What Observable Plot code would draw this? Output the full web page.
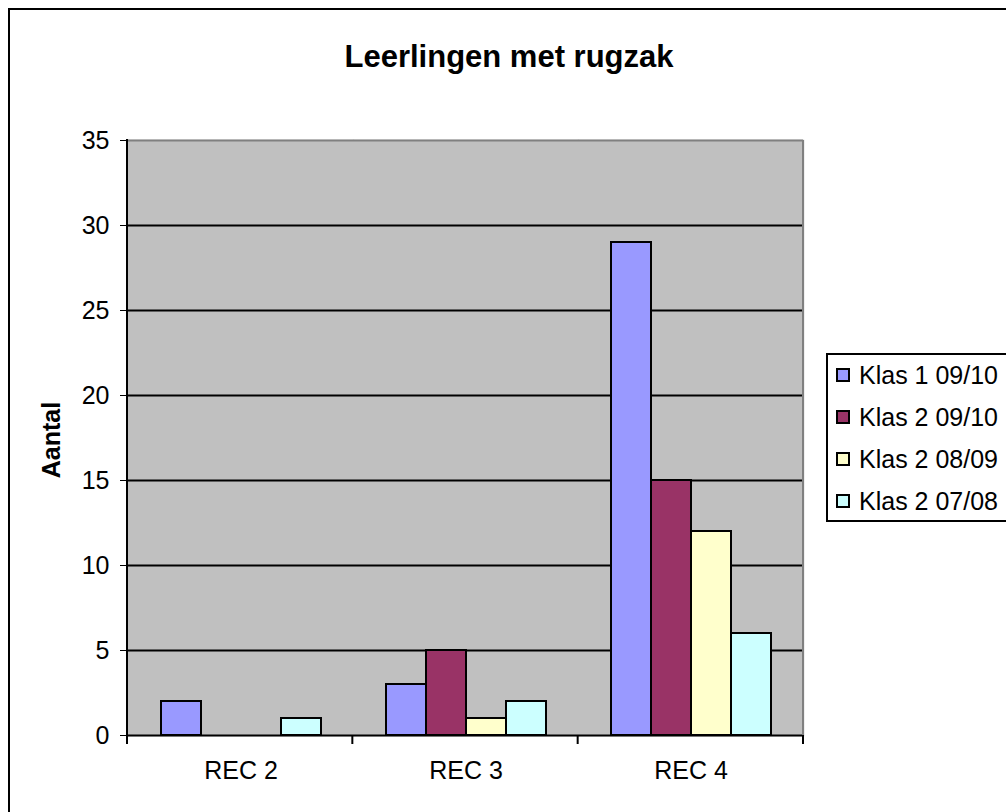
<!DOCTYPE html>
<html>
<head>
<meta charset="utf-8">
<script src="https://cdn.jsdelivr.net/npm/d3@7"></script>
<script src="https://cdn.jsdelivr.net/npm/@observablehq/plot@0.6"></script>
<style>
  html, body { margin: 0; padding: 0; background: #fff; }
  #wrap { position: relative; width: 1006px; height: 812px; overflow: hidden; font-family: "Liberation Sans", Arial, sans-serif; }
  #border { position: absolute; left: 8px; top: 8px; width: 1100px; height: 900px; border: 2px solid #000; box-sizing: border-box; }
  #chart { position: absolute; left: 0; top: 0; }
  #chart svg { background: transparent !important; }
  #title { position: absolute; left: 0; top: 41px; width: 1018px; text-align: center; font-weight: bold; font-size: 31px; line-height: 31px; color: #000; }
  #ylabel { position: absolute; left: -49px; top: 425px; width: 200px; height: 30px; line-height: 30px; text-align: center; font-weight: bold; font-size: 25px; transform: rotate(-90deg); color: #000; }
  #legend { position: absolute; left: 826px; top: 353px; width: 260px; height: 169px; border: 2px solid #000; box-sizing: border-box; background: #fff; }
  .row { position: absolute; left: 0; height: 42px; display: flex; align-items: center; font-size: 25px; color: #000; white-space: nowrap; }
  .sw { width: 14px; height: 14px; border: 2px solid #000; box-sizing: border-box; margin-left: 8px; margin-right: 9px; }
</style>
</head>
<body>
<div id="wrap">
  <div id="border"></div>
  <div id="chart"></div>
  <div id="title"></div>
  <div id="ylabel"></div>
  <div id="legend"></div>
</div>
<script>
// ---- data ----
const titleText = "Leerlingen met rugzak";
const yLabelText = "Aantal";
const categories = ["REC 2", "REC 3", "REC 4"];
const series = ["Klas 1 09/10", "Klas 2 09/10", "Klas 2 08/09", "Klas 2 07/08"];
const klas1_0910 = [2, 3, 29];
const klas2_0910 = [0, 5, 15];
const klas2_0809 = [0, 1, 12];
const klas2_0708 = [1, 2, 6];
const seriesColors = ["#9999FF", "#993366", "#FFFFCC", "#CCFFFF"];
const yTicks = [0, 5, 10, 15, 20, 25, 30, 35];

const valuesBySeries = [klas1_0910, klas2_0910, klas2_0809, klas2_0708];
const rows = [];
categories.forEach((c, i) => {
  series.forEach((s, j) => {
    rows.push({category: c, series: s, value: valuesBySeries[j][i]});
  });
});

const plot = Plot.plot({
  width: 1006,
  height: 812,
  marginLeft: 127,
  marginRight: 203,
  marginTop: 140,
  marginBottom: 77,
  style: {fontFamily: "'Liberation Sans', Arial, sans-serif", fontSize: "25px", color: "#000", background: "transparent"},
  facet: {data: rows, x: "category"},
  fx: {domain: categories, padding: 0, axis: "bottom", label: null, tickSize: 0, tickPadding: 26},
  x: {domain: series, paddingInner: 0, paddingOuter: 0.744, axis: null},
  y: {domain: [0, 35], ticks: yTicks, tickSize: 8, tickPadding: 11, label: null, tickFormat: d => String(d)},
  color: {domain: series, range: seriesColors},
  marks: [
    Plot.frame({fill: "#C0C0C0", stroke: "#C0C0C0", strokeWidth: 1.5}),
    Plot.ruleY(yTicks.slice(1, -1), {stroke: "#000", strokeWidth: 2}),
    Plot.ruleY([yTicks[yTicks.length - 1]], {stroke: "#808080", strokeWidth: 2}),
    Plot.barY(rows, {x: "series", y: "value", fill: "series", stroke: "#000", strokeWidth: 2, inset: 0, filter: d => d.value > 0}),
    Plot.ruleY([0], {stroke: "#000", strokeWidth: 2})
  ]
});

document.getElementById("chart").appendChild(plot);

// axis lines and category boundary ticks from the library's scales
const fxs = plot.scale("fx");
const ys = plot.scale("y");
const n = categories.length;
const fx0 = fxs.range[0], fx1 = fxs.range[1];
const step = (fx1 - fx0) / n;
const bounds = d3.range(n + 1).map(i => fx0 + i * step);
const yBottom = ys.apply ? ys.apply(0) : ys.range[0];
const yTop = ys.apply ? ys.apply(35) : ys.range[1];
const svg = d3.select(plot);
const g = svg.append("g");
g.append("line").attr("x1", fx1).attr("x2", fx1).attr("y1", yTop).attr("y2", yBottom)
  .attr("stroke", "#808080").attr("stroke-width", 2);
g.append("line").attr("x1", fx0).attr("x2", fx0).attr("y1", yTop - 1).attr("y2", yBottom + 1)
  .attr("stroke", "#000").attr("stroke-width", 2);
bounds.forEach(b => {
  g.append("line").attr("x1", b).attr("x2", b).attr("y1", yBottom).attr("y2", yBottom + 9)
    .attr("stroke", "#000").attr("stroke-width", 2);
});

document.getElementById("title").textContent = titleText;
document.getElementById("ylabel").textContent = yLabelText;
const legend = document.getElementById("legend");
series.forEach((s, i) => {
  const r = document.createElement("div");
  r.className = "row";
  r.style.top = (-1 + i * 42) + "px";
  const sw = document.createElement("div");
  sw.className = "sw";
  sw.style.background = seriesColors[i];
  const t = document.createElement("span");
  t.textContent = s;
  r.appendChild(sw);
  r.appendChild(t);
  legend.appendChild(r);
});
</script>
</body>
</html>
